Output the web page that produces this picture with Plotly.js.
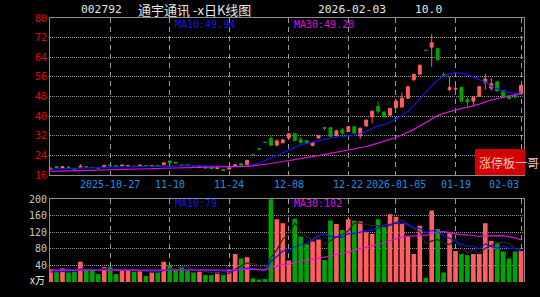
<!DOCTYPE html>
<html>
<head>
<meta charset="utf-8">
<script src="https://cdn.plot.ly/plotly-3.0.1.min.js"></script>
<style>
  html, body { margin: 0; padding: 0; background: #000; }
  #chart { width: 540px; height: 297px; }
</style>
</head>
<body>
<div id="chart"></div>
<script>
// ---- data ----
const dayIndex = Array.from({length: 80}, (_, i) => i);

const openP = [18.3,19.4,18.9,19.3,18.6,19.2,19.4,19.2,19.0,19.5,
  20.1,19.8,19.7,19.6,19.6,19.6,19.8,19.7,19.9,20.2,
  21.7,21.2,20.1,20.1,19.9,19.5,19.5,19.0,18.6,18.3,
  18.4,19.6,20.6,20.3,24.22,26.62,29.32,30.8,28.2,29.2,
  31.1,32.8,30.4,30.0,28.0,31.1,35.3,35.3,32.0,34.4,
  33.7,35.7,32.0,36.0,39.7,44.0,41.7,40.4,43.5,43.7,
  47.3,54.8,57.1,66.82,68.1,67.5,56.9,50.9,51.0,51.7,
  46.7,46.1,48.0,53.7,51.4,54.0,50.4,48.3,48.3,49.3];
const highP = [18.9,19.5,19.6,19.4,18.7,20.5,19.5,19.3,19.1,20.0,
  20.2,19.9,20.2,20.0,19.7,20.1,19.9,20.0,20.0,21.2,
  21.8,21.3,20.2,20.2,20.0,19.9,19.6,19.1,19.8,18.4,
  19.2,20.3,20.8,22.0,24.22,26.62,29.32,31.8,30.6,30.8,
  33.2,33.2,31.5,30.1,29.5,32.3,35.3,35.5,34.4,35.3,
  36.0,36.0,35.3,38.6,42.2,46.0,42.0,43.5,46.9,49.6,
  52.0,57.2,61.2,66.82,73.4,68.0,58.0,56.0,52.4,52.0,
  47.7,48.0,52.2,57.2,55.6,54.3,50.6,48.6,49.3,52.58];
const lowP = [18.2,18.8,18.8,19.0,18.0,19.0,19.0,18.9,18.7,19.4,
  19.7,19.4,19.6,19.4,19.2,19.4,19.5,19.6,19.6,20.1,
  20.8,20.7,19.7,19.8,19.5,19.4,18.7,18.5,18.4,17.8,
  18.2,19.5,19.9,19.9,24.2,26.6,29.3,27.9,27.6,28.8,
  30.5,29.7,28.8,28.6,27.7,30.8,34.4,31.5,31.8,31.7,
  33.5,32.8,30.7,35.8,37.1,41.1,39.3,40.0,43.2,43.5,
  47.0,54.4,57.0,66.8,60.1,62.9,56.6,50.1,49.7,46.0,
  43.5,44.4,47.8,50.8,50.4,50.0,47.5,46.8,47.3,49.0];
const closeP = [18.8,18.9,19.4,19.1,18.4,19.5,19.2,19.0,18.8,19.9,
  19.8,19.6,20.0,19.8,19.4,20.0,19.7,19.8,19.7,21.0,
  20.9,20.9,19.9,19.9,19.7,19.7,18.8,18.7,18.9,17.9,
  19.0,20.1,20.0,22.0,24.2,26.6,29.3,28.1,29.9,30.3,
  32.8,30.1,29.3,28.8,29.3,32.1,35.1,31.8,34.0,33.1,
  35.7,33.1,35.1,38.4,42.0,42.0,39.7,43.1,46.1,47.3,
  52.0,57.1,60.7,66.8,69.9,62.9,56.6,51.7,51.3,46.1,
  45.8,47.7,52.0,55.1,53.2,50.3,47.8,47.2,47.8,52.58];

const priceMA10 = [18.4,18.45,18.5,18.55,18.6,18.7,18.8,18.9,19.0,19.1,
  19.2,19.3,19.35,19.4,19.45,19.5,19.5,19.55,19.6,19.7,
  19.8,19.85,19.9,19.9,19.85,19.8,19.7,19.6,19.5,19.4,
  19.35,19.35,19.4,19.6,20.1,20.8,21.9,23.0,24.1,25.0,
  26.3,27.35,28.3,28.9,29.5,30.0,30.6,31.0,31.4,31.6,
  31.9,32.2,32.8,33.8,35.0,36.0,36.5,37.6,38.8,40.25,
  41.9,44.3,46.8,49.7,52.5,54.6,56.25,57.1,57.6,57.5,
  56.9,55.95,55.1,53.9,52.2,51.0,50.1,49.65,49.3,49.94];
const priceMA30 = [17.5,17.55,17.6,17.65,17.7,17.75,17.8,17.85,17.9,17.95,
  18.0,18.1,18.15,18.25,18.35,18.4,18.5,18.55,18.65,18.75,
  18.85,18.9,19.0,19.05,19.1,19.15,19.2,19.25,19.3,19.3,
  19.35,19.4,19.45,19.55,19.75,20.0,20.35,20.7,21.1,21.45,
  21.95,22.4,22.8,23.15,23.5,23.9,24.35,24.8,25.25,25.65,
  26.1,26.55,27.05,27.6,28.3,29.0,29.65,30.4,31.3,32.28,
  33.38,34.61,35.97,37.46,38.99,40.2,41.11,41.89,42.61,43.13,
  43.57,44.15,44.91,45.79,46.58,47.19,47.61,48.13,48.59,49.2];

const volume = [31,25,33,23,25,49,29,29,19,36,
  36,19,31,29,25,29,15,23,25,49,
  41,29,37,27,23,25,17,17,23,17,
  29,68,57,60,9,6,7,215,152,142,
  52,153,110,91,98,103,53,149,140,126,
  152,148,146,120,116,152,133,164,158,140,
  110,68,136,10,173,128,23,118,75,68,
  65,68,68,142,99,96,74,57,74,75];
const volMA5 = [27,28,30,30,27.4,31,31.8,31,30.2,32.4,
  29.8,27.8,28.2,30.2,28,26.6,25.8,24.2,23.4,28.2,
  30.6,33.4,36.2,36.6,31.4,28.2,25.8,21.8,21,19.8,
  20.6,30.8,38.8,46.2,44.6,40,27.8,59.4,77.8,104.4,
  113.6,142.8,121.8,109.6,100.8,111,91,98.8,108.6,114.2,
  124,143,142.4,138.4,136.4,136.4,133.4,137,144.6,149.4,
  141,128,122.4,92.8,99.4,103,94,90.4,103.4,82.4,
  69.8,78.8,68.8,82.2,88.4,94.6,95.8,93.6,80,75.2];
const volMA10 = [24,25,26,27,28,29,29.5,30,30,29.9,
  30.4,29.8,29.6,30.2,30.2,28.2,26.8,26.2,26.8,28.1,
  28.6,29.6,30.2,30,29.8,29.4,29.6,29,28.8,25.6,
  24.4,28.3,30.3,33.6,32.2,30.3,29.3,49.1,62,74.5,
  76.8,85.3,90.6,93.7,102.6,112.3,116.9,110.3,109.1,107.5,
  117.5,117,120.6,123.5,125.3,130.2,138.2,139.7,141.5,142.9,
  138.7,130.7,129.7,118.7,124.4,122,111,106.4,98.1,90.9,
  86.4,86.4,79.6,92.8,85.4,82.2,87.3,81.2,81.1,79];
const volMA30 = [28.5,28.5,28.4,28.4,28.3,28.3,28.3,28.2,28.2,28.2,
  28.1,28.1,28.1,28,28,28,28,27.9,27.9,27.9,
  27.9,27.9,27.9,27.9,27.9,27.9,27.9,27.9,27.9,27.9,
  27.8,29.2,30,31.3,30.7,29.3,28.6,34.8,39.2,42.7,
  43.3,47.7,50.4,52.4,54.9,57.3,58.6,62.8,66.6,69.2,
  72.9,76.9,80.5,83.6,86.7,90.9,94.8,99.7,104.2,108.3,
  111,111,113.6,112,117.4,121.5,122,118.8,116.2,113.8,
  114.2,111.4,110,111.7,111.7,111.5,112.2,109.1,106.9,102];

const tickIdx = [10, 20, 30, 40, 50, 58, 68, 79];
const tickLabels = ['2025-10-27','11-10','11-24','12-08','12-22','2026-01-05','01-19','02-03'];
const priceTicks = [16, 24, 32, 40, 48, 56, 64, 72, 80];
const volTicks = [40, 80, 120, 160, 200];

// ---- styles ----
const RED = '#ff5e5e', GREEN = '#00a400', BLUE = '#1414f0', MAG = '#e010e0';
const MONO = 'DejaVu Sans Mono, Liberation Mono, monospace';
const CJK = 'Noto Sans CJK SC, sans-serif';
const GRIDC = '#9a9a9a', BORDER = '#8c8c8c';

const volColors = closeP.map((c, i) => (c > openP[i] ? RED : GREEN));

const traces = [
  {type: 'candlestick', x: dayIndex, open: openP, high: highP, low: lowP, close: closeP,
   xaxis: 'x', yaxis: 'y', whiskerwidth: 0,
   increasing: {line: {color: RED, width: 1}, fillcolor: RED},
   decreasing: {line: {color: GREEN, width: 1}, fillcolor: GREEN},
   hoverinfo: 'skip'},
  {type: 'scatter', mode: 'lines', x: dayIndex, y: priceMA10, xaxis: 'x', yaxis: 'y',
   line: {color: BLUE, width: 1.2}, hoverinfo: 'skip'},
  {type: 'scatter', mode: 'lines', x: dayIndex, y: priceMA30, xaxis: 'x', yaxis: 'y',
   line: {color: MAG, width: 1.2}, hoverinfo: 'skip'},
  {type: 'bar', x: dayIndex, y: volume, xaxis: 'x2', yaxis: 'y2', width: 0.78,
   marker: {color: volColors, line: {width: 0}}, hoverinfo: 'skip'},
  {type: 'scatter', mode: 'lines', x: dayIndex, y: volMA5, xaxis: 'x2', yaxis: 'y2',
   line: {color: '#262626', width: 1.2}, hoverinfo: 'skip'},
  {type: 'scatter', mode: 'lines', x: dayIndex, y: volMA10, xaxis: 'x2', yaxis: 'y2',
   line: {color: BLUE, width: 1.2}, hoverinfo: 'skip'},
  {type: 'scatter', mode: 'lines', x: dayIndex, y: volMA30, xaxis: 'x2', yaxis: 'y2',
   line: {color: MAG, width: 1.2}, hoverinfo: 'skip'}
];

const annotations = [];
tickIdx.forEach((t, k) => {
  annotations.push({xref: 'x', yref: 'paper', x: t, y: 0.3712, yanchor: 'middle',
    xanchor: k === tickIdx.length - 1 ? 'right' : 'center',
    text: tickLabels[k], showarrow: false,
    font: {family: MONO, size: 10, color: '#1f8fe8'}});
});
const txt = (x, y, text, color, size, family, xanchor) => ({
  xref: 'paper', yref: 'paper', x: x, y: y, xanchor: xanchor || 'left', yanchor: 'middle',
  text: text, showarrow: false, font: {family: family || MONO, size: size || 10, color: color}
});
annotations.push(txt(0.0612, 1.034, '002792', '#e6e6e6', 11.3));
annotations.push(txt(0.1814, 1.034, '通宇通讯 -x日K线图', '#e6e6e6', 13, CJK));
annotations.push(txt(0.561, 1.034, '2026-02-03', '#e6e6e6', 11.3));
annotations.push(txt(0.766, 1.034, '10.0', '#e6e6e6', 11.3));
annotations.push(txt(0.2595, 0.977, 'MA10:' + priceMA10[79].toFixed(2), BLUE, 10));
annotations.push(txt(0.5105, 0.977, 'MA30:' + priceMA30[79].toFixed(2), MAG, 10));
annotations.push(txt(0.2595, 0.2955, 'MA10:' + Math.round(volMA10[79]), BLUE, 10));
annotations.push(txt(0.5105, 0.2955, 'MA30:' + Math.round(volMA30[79]), MAG, 10));
annotations.push(txt(-0.0274, 0.0076, 'x万', '#f0f0f0', 10, CJK, 'center'));
annotations.push(txt(0.9008, 0.4545, '涨停板一哥', '#f2c4c4', 12, CJK));

const layout = {
  width: 540, height: 297,
  paper_bgcolor: '#000', plot_bgcolor: '#000',
  margin: {l: 50, r: 16, t: 18, b: 15, pad: 0},
  showlegend: false,
  xaxis: {domain: [0, 1], range: [-0.1, 79.5], anchor: 'y',
    showline: true, mirror: true, linecolor: BORDER, linewidth: 1,
    showgrid: true, gridcolor: GRIDC, griddash: '5px,4px', gridwidth: 1,
    tickmode: 'array', tickvals: tickIdx, showticklabels: false, ticks: '',
    zeroline: false, rangeslider: {visible: false}, fixedrange: true},
  yaxis: {domain: [0.4053, 1], range: [16, 80], anchor: 'x',
    tickmode: 'array', tickvals: priceTicks, ticks: '',
    tickfont: {family: MONO, size: 10, color: '#f00000'},
    showline: true, mirror: true, linecolor: BORDER, linewidth: 1,
    showgrid: true, gridcolor: GRIDC, griddash: '1px,1px', gridwidth: 1,
    zeroline: false, fixedrange: true},
  xaxis2: {domain: [0, 1], range: [-0.1, 79.5], anchor: 'y2', side: 'top',
    showline: true, mirror: false, linecolor: BORDER, linewidth: 1,
    showgrid: true, gridcolor: GRIDC, griddash: '5px,4px', gridwidth: 1,
    tickmode: 'array', tickvals: tickIdx, showticklabels: false, ticks: '',
    zeroline: false, fixedrange: true},
  yaxis2: {domain: [0, 0.3133], range: [0, 200], anchor: 'x2',
    tickmode: 'array', tickvals: volTicks, ticks: '',
    tickfont: {family: MONO, size: 10, color: '#c8c8c8'},
    showline: true, mirror: true, linecolor: BORDER, linewidth: 1,
    showgrid: true, gridcolor: GRIDC, griddash: '1px,1px', gridwidth: 1,
    zeroline: false, fixedrange: true},
  shapes: [
    {type: 'rect', xref: 'paper', yref: 'paper', x0: 0.8966, x1: 1.002, y0: 0.4053, y1: 0.5038,
     fillcolor: '#d40000', line: {width: 0}, layer: 'above'}
  ],
  annotations: annotations
};

Plotly.newPlot('chart', traces, layout, {staticPlot: true, displayModeBar: false});
</script>
</body>
</html>
